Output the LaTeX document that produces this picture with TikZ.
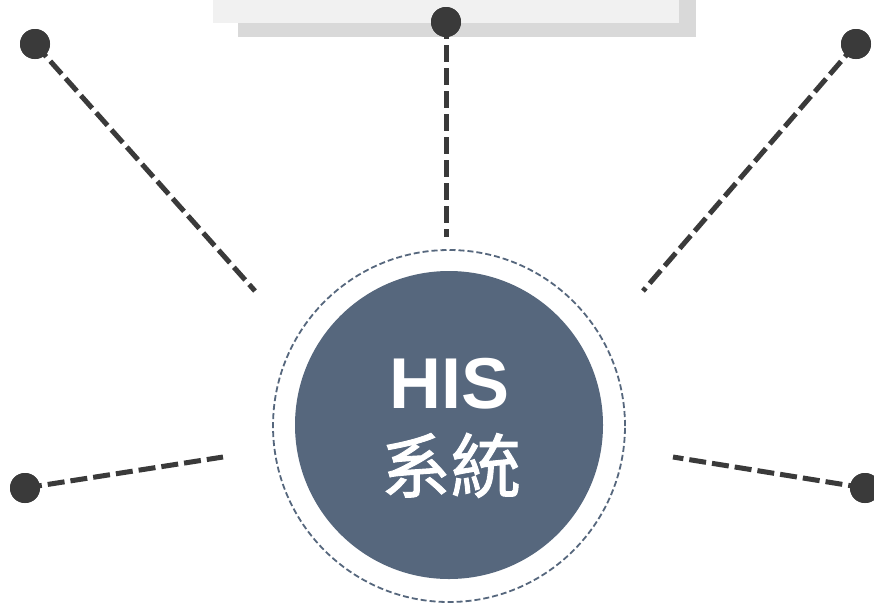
\documentclass[tikz,border=0pt]{standalone}
\usepackage{fontspec}
\setmainfont{Liberation Sans}
\newfontfamily\cjk[FakeBold=1.3]{Noto Sans CJK TC}
\definecolor{slate}{HTML}{56677D}
\definecolor{dotgray}{HTML}{3A3A3A}
\definecolor{boxlight}{HTML}{F1F1F1}
\definecolor{boxshadow}{HTML}{D9D9D9}
\begin{document}
\begin{tikzpicture}[x=1pt,y=-1pt,
  dotnode/.style={circle,fill=dotgray,minimum size=30pt,inner sep=0pt},
  link/.style={draw=dotgray,line width=5pt,dash pattern=on 17pt off 6pt},
  hub/.style={circle,fill=slate,minimum size=308pt,inner sep=0pt},
  halo/.style={circle,draw=slate,line width=1.8pt,dash pattern=on 6pt off 3pt,fill=white,minimum size=352pt,inner sep=0pt}]
\useasboundingbox (0,0) rectangle (874,603);
\fill[white] (0,0) rectangle (874,603);
% top box
\fill[boxshadow] (238,-5) rectangle (696,37);
\fill[boxlight] (213,-5) rectangle (679,23);
% circle
\node[halo] (halo) at (449,426) {};
\node[hub] (hub) at (449,425) {};
\node[text=white,font=\bfseries\fontsize{72}{76}\selectfont,anchor=base,inner sep=0pt] (his) at (449.5,408) {HIS};
\node[text=white,font=\cjk\fontsize{70}{76}\selectfont,anchor=base,inner sep=0pt] (sys) at (451,492) {系統};
% endpoints
\coordinate (et) at (446,237);
\coordinate (etl) at (255,291);
\coordinate (etr) at (643,291);
\coordinate (ebl) at (223,457);
\coordinate (ebr) at (673,457);
% dots
\node[dotnode] (dt) at (446,22) {};
\node[dotnode] (dtl) at (35,44) {};
\node[dotnode] (dtr) at (856,44) {};
\node[dotnode] (dbl) at (25,488) {};
\node[dotnode] (dbr) at (865,488) {};
% links
\draw[link] (dt.center) -- (et);
\draw[link] (dtl.center) -- (etl);
\draw[link] (dtr.center) -- (etr);
\draw[link] (dbl.center) -- (ebl);
\draw[link] (dbr.center) -- (ebr);
% dots on top of links
\fill[dotgray] (dt) circle (15);
\fill[dotgray] (dtl) circle (15);
\fill[dotgray] (dtr) circle (15);
\fill[dotgray] (dbl) circle (15);
\fill[dotgray] (dbr) circle (15);
\end{tikzpicture}
\end{document}
